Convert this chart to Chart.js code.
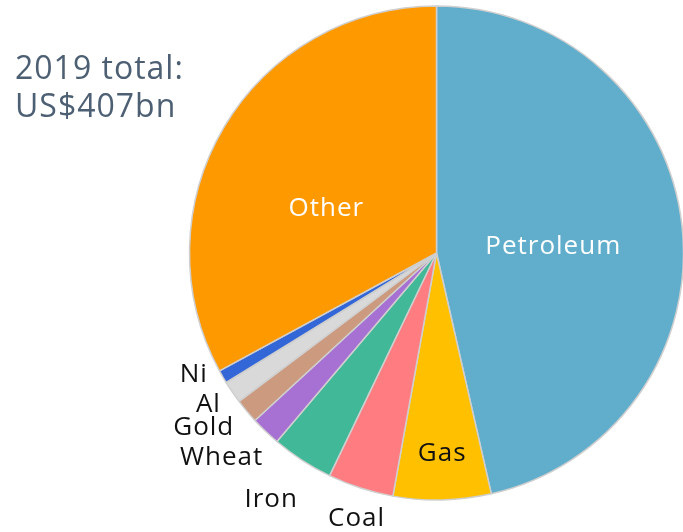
<!DOCTYPE html>
<html>
<head>
<meta charset="utf-8">
<script src="https://cdn.jsdelivr.net/npm/chart.js@4"></script>
<style>
  html, body { margin: 0; padding: 0; background: #fff; }
  #wrap { position: relative; width: 683px; height: 532px; }
  #total {
    position: absolute; left: 15px; top: 48px;
    font-family: "Open Sans", sans-serif; font-size: 32px; line-height: 38px;
    letter-spacing: 1px; color: #4d6073;
  }
</style>
</head>
<body>
<div id="wrap">
  <canvas id="exportChart" width="683" height="532"></canvas>
  <div id="total">2019 total:<br>US$407bn</div>
</div>
<script>
// export values, US$bn
const categories = ['Petroleum', 'Gas', 'Coal', 'Iron', 'Wheat', 'Gold', 'Al', 'Ni', 'Other'];
const values = [189, 26, 17.5, 16.5, 8, 6.5, 6, 3.5, 134];
const colors = ['#60aecc', '#ffc000', '#ff7c80', '#41b897', '#a770d3', '#cc9a7f', '#d9d9d9', '#3366d6', '#ff9900'];

// label placement: inside = at the slice centre, otherwise next to the rim
const labelStyle = {
  Petroleum: { inside: true, color: '#fff', dx: -6, dy: 7 },
  Gas:   { inside: true, color: '#111', dx: 1, dy: -2, r: 0.82 },
  Other: { inside: true, color: '#fff', dx: -4, dy: 19 },
  Coal:  { color: '#111', dx: -4, dy: 31 },
  Iron:  { color: '#111', dx: -31, dy: 39 },
  Wheat: { color: '#111', dx: -44, dy: 26 },
  Gold:  { color: '#111', dx: -43, dy: 16 },
  Al:    { color: '#111', dx: -24, dy: 12 },
  Ni:    { color: '#111', dx: -29, dy: -2 }
};

const sliceLabels = {
  id: 'sliceLabels',
  afterDatasetsDraw(chart) {
    const ctx = chart.ctx;
    const arcs = chart.getDatasetMeta(0).data;
    ctx.save();
    ctx.font = '26px "Open Sans", sans-serif';
    ctx.letterSpacing = '1px';
    ctx.textAlign = 'center';
    ctx.textBaseline = 'middle';
    arcs.forEach((arc, i) => {
      const name = categories[i];
      const s = labelStyle[name];
      const mid = (arc.startAngle + arc.endAngle) / 2;
      const r = s.inside ? arc.outerRadius * (s.r || 0.5) : arc.outerRadius;
      const x = arc.x + Math.cos(mid) * r;
      const y = arc.y + Math.sin(mid) * r;
      ctx.fillStyle = s.color;
      ctx.fillText(name, x + s.dx, y + s.dy);
    });
    ctx.restore();
  }
};

new Chart(document.getElementById('exportChart'), {
  type: 'pie',
  data: {
    labels: categories,
    datasets: [{
      data: values,
      backgroundColor: colors,
      borderColor: '#cfcfcf',
      borderWidth: 1.5,
      radius: 247
    }]
  },
  options: {
    responsive: false,
    animation: false,
    layout: { padding: { left: 190, right: 0, top: 6, bottom: 32 } },
    plugins: {
      legend: { display: false },
      tooltip: { enabled: false }
    }
  },
  plugins: [sliceLabels]
});
</script>
</body>
</html>
